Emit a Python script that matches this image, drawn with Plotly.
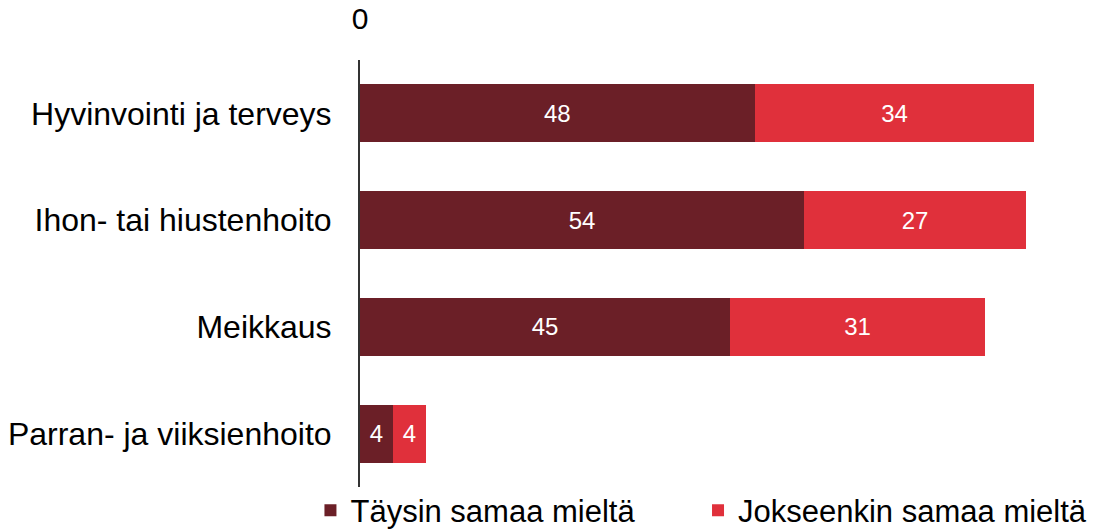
import plotly.graph_objects as go

categories = ["Hyvinvointi ja terveys", "Ihon- tai hiustenhoito", "Meikkaus", "Parran- ja viiksienhoito"]
taysin = [48, 54, 45, 4]
jokseenkin = [34, 27, 31, 4]
series_names = ["Täysin samaa mieltä", "Jokseenkin samaa mieltä"]
colors = ["#6B1F27", "#E0303B"]
legend_ids = ["legend", "legend2"]

fig = go.Figure()
for name, vals, col, lg in zip(series_names, [taysin, jokseenkin], colors, legend_ids):
    fig.add_trace(go.Bar(
        y=categories, x=vals, name=name, orientation="h",
        marker=dict(color=col, line=dict(width=0)),
        text=[str(v) for v in vals], textposition="inside",
        insidetextanchor="middle", constraintext="none",
        textfont=dict(color="white", size=24, family="Liberation Sans, Arial"),
        legend=lg,
    ))

legend_style = dict(orientation="h", xref="container", yref="container",
                    xanchor="left", y=0.04, yanchor="middle",
                    font=dict(size=31), itemwidth=30,
                    bgcolor="rgba(0,0,0,0)")

fig.update_layout(
    barmode="stack",
    bargap=0.455,
    width=1097, height=532,
    margin=dict(l=360, r=15, t=60, b=45, autoexpand=False),
    plot_bgcolor="white", paper_bgcolor="white",
    font=dict(family="Liberation Sans, Arial", size=32, color="#000000"),
    uniformtext=dict(mode=False),
    xaxis=dict(range=[0, 87.8], side="top", tickvals=[0], ticktext=["0"],
               showgrid=False, zeroline=False, showline=False,
               ticks="outside", ticklen=18, tickcolor="rgba(0,0,0,0)",
               tickfont=dict(size=30)),
    yaxis=dict(autorange="reversed", showline=True, linecolor="#333333",
               linewidth=2, ticks="outside", ticklen=20,
               tickcolor="rgba(0,0,0,0)", showgrid=False,
               tickfont=dict(size=32)),
    legend=dict(legend_style, x=0.283),
    legend2=dict(legend_style, x=0.6363),
    showlegend=True,
)

fig.write_html("out.html")
